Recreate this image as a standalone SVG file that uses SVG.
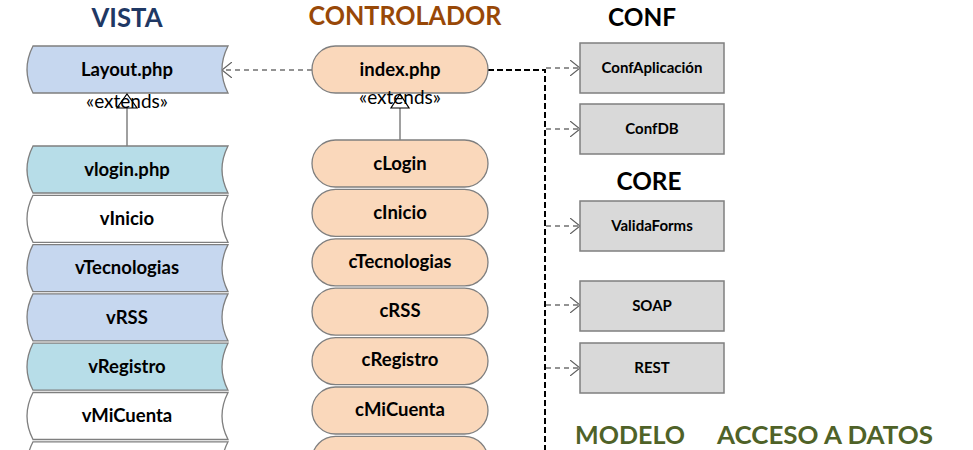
<svg xmlns="http://www.w3.org/2000/svg" width="973" height="450" viewBox="0 0 973 450">
<style>
.hd{font-family:Lato,"Liberation Sans",sans-serif;font-weight:bold;text-anchor:middle}
.lb{font-family:Lato,"Liberation Sans",sans-serif;font-weight:bold;font-size:18.5px;text-anchor:middle;fill:#000}
.bx{font-family:Lato,"Liberation Sans",sans-serif;font-weight:bold;font-size:15px;text-anchor:middle;fill:#000}
.ext{font-family:Lato,"Liberation Sans",sans-serif;font-size:19px;text-anchor:middle;fill:#000}
.v{stroke:#7f7f7f;stroke-width:1.3}
.c{fill:#fad8bb;stroke:#7f7f7f;stroke-width:1.3}
.g{fill:#d9d9d9;stroke:#7f7f7f;stroke-width:1.5}
.blue{fill:#c6d7ef}
.teal{fill:#b7dde8}
.white{fill:#fff}
.dg{fill:none;stroke:#707070;stroke-width:1.3;stroke-dasharray:5 4}
.db{fill:none;stroke:#000;stroke-width:2;stroke-dasharray:6 3}
.gen{fill:none;stroke:#808080;stroke-width:1.5}
</style>
<defs>
<marker id="open" viewBox="0 0 10 16" refX="10" refY="8" markerWidth="10" markerHeight="16" markerUnits="userSpaceOnUse" orient="auto">
<path d="M0,0 L10,8 L0,16" fill="none" stroke="#606060" stroke-width="1.2"/>
</marker>
</defs>

<!-- headers -->
<text class="hd" x="127" y="27" font-size="27" fill="#1f3864" textLength="71" lengthAdjust="spacingAndGlyphs">VISTA</text>
<text class="hd" x="405" y="25" font-size="26" fill="#984807" textLength="193" lengthAdjust="spacingAndGlyphs">CONTROLADOR</text>
<text class="hd" x="642" y="26" font-size="25" fill="#000" textLength="68" lengthAdjust="spacingAndGlyphs">CONF</text>
<text class="hd" x="649" y="190" font-size="25" fill="#000" textLength="65" lengthAdjust="spacingAndGlyphs">CORE</text>
<text class="hd" x="630" y="444" font-size="25" fill="#4f6228" textLength="110" lengthAdjust="spacingAndGlyphs">MODELO</text>
<text class="hd" x="825" y="444" font-size="25" fill="#4f6228" textLength="216" lengthAdjust="spacingAndGlyphs">ACCESO A DATOS</text>

<!-- connectors -->
<g id="connectors">
<line class="dg" x1="312" y1="70" x2="222" y2="70" marker-end="url(#open)"/>
<polyline class="db" points="488,70 545,70 545,450"/>
<line class="dg" x1="546" y1="68" x2="580" y2="68" marker-end="url(#open)"/>
<line class="dg" x1="546" y1="129" x2="580" y2="129" marker-end="url(#open)"/>
<line class="dg" x1="546" y1="226" x2="580" y2="226" marker-end="url(#open)"/>
<line class="dg" x1="546" y1="305" x2="580" y2="305" marker-end="url(#open)"/>
<line class="dg" x1="546" y1="368" x2="580" y2="368" marker-end="url(#open)"/>
<line class="gen" x1="127" y1="108" x2="127" y2="146"/>
<line class="gen" x1="400" y1="108" x2="400" y2="140"/>
</g>

<!-- VISTA -->
<g id="layout">
<path class="v blue" d="M33,46 L228,46 Q216,69.5 228,93 L33,93 Q21,69.5 33,46 Z"/>
<text class="lb" x="127" y="76">Layout.php</text>
</g>
<g id="vlogin">
<path class="v teal" d="M33,146 L228,146 Q216,169.5 228,193 L33,193 Q21,169.5 33,146 Z"/>
<text class="lb" x="127" y="176">vlogin.php</text>
</g>
<g id="vinicio">
<path class="v white" d="M33,195.3 L228,195.3 Q216,218.8 228,242.3 L33,242.3 Q21,218.8 33,195.3 Z"/>
<text class="lb" x="127" y="225">vInicio</text>
</g>
<g id="vtecnologias">
<path class="v blue" d="M33,244.6 L228,244.6 Q216,268.1 228,291.6 L33,291.6 Q21,268.1 33,244.6 Z"/>
<text class="lb" x="127" y="274">vTecnologias</text>
</g>
<g id="vrss">
<path class="v blue" d="M33,293.9 L228,293.9 Q216,317.4 228,340.9 L33,340.9 Q21,317.4 33,293.9 Z"/>
<text class="lb" x="127" y="324">vRSS</text>
</g>
<g id="vregistro">
<path class="v teal" d="M33,343.2 L228,343.2 Q216,366.7 228,390.2 L33,390.2 Q21,366.7 33,343.2 Z"/>
<text class="lb" x="127" y="373">vRegistro</text>
</g>
<g id="vmicuenta">
<path class="v white" d="M33,392.5 L228,392.5 Q216,416 228,439.5 L33,439.5 Q21,416 33,392.5 Z"/>
<text class="lb" x="127" y="422">vMiCuenta</text>
</g>
<g id="vnext">
<path class="v white" d="M33,441.8 L228,441.8 Q216,465.3 228,488.8 L33,488.8 Q21,465.3 33,441.8 Z"/>
</g>

<!-- generalization (vista) -->
<g id="ext-vista">
<text class="ext" x="127" y="108">«extends»</text>
<path d="M127,94 L137,108 L117,108 Z" fill="none" stroke="#000" stroke-width="1.2"/>
</g>

<!-- CONTROLADOR -->
<g id="index">
<rect class="c" x="312" y="46" width="176" height="47" rx="23.5"/>
<text class="lb" x="400" y="76">index.php</text>
</g>
<g id="clogin">
<rect class="c" x="312" y="140" width="176" height="47" rx="23.5"/>
<text class="lb" x="400" y="170">cLogin</text>
</g>
<g id="cinicio">
<rect class="c" x="312" y="189.4" width="176" height="47" rx="23.5"/>
<text class="lb" x="400" y="219">cInicio</text>
</g>
<g id="ctecnologias">
<rect class="c" x="312" y="238.8" width="176" height="47" rx="23.5"/>
<text class="lb" x="400" y="268">cTecnologias</text>
</g>
<g id="crss">
<rect class="c" x="312" y="288.2" width="176" height="47" rx="23.5"/>
<text class="lb" x="400" y="317">cRSS</text>
</g>
<g id="cregistro">
<rect class="c" x="312" y="337.6" width="176" height="47" rx="23.5"/>
<text class="lb" x="400" y="366">cRegistro</text>
</g>
<g id="cmicuenta">
<rect class="c" x="312" y="387" width="176" height="47" rx="23.5"/>
<text class="lb" x="400" y="416">cMiCuenta</text>
</g>
<g id="cnext">
<rect class="c" x="312" y="436.4" width="176" height="47" rx="23.5"/>
</g>
<g id="ext-controlador">
<text class="ext" x="400" y="104">«extends»</text>
<path d="M400,94 L409,108 L391,108 Z" fill="none" stroke="#000" stroke-width="1.2"/>
</g>

<!-- CONF / CORE -->
<g id="confaplicacion">
<rect class="g" x="580" y="43" width="144" height="50"/>
<text class="bx" x="652" y="73">ConfAplicación</text>
</g>
<g id="confdb">
<rect class="g" x="580" y="104" width="144" height="50"/>
<text class="bx" x="652" y="134">ConfDB</text>
</g>
<g id="validaforms">
<rect class="g" x="580" y="201" width="144" height="50"/>
<text class="bx" x="652" y="231">ValidaForms</text>
</g>
<g id="soap">
<rect class="g" x="580" y="281" width="144" height="50"/>
<text class="bx" x="652" y="311">SOAP</text>
</g>
<g id="rest">
<rect class="g" x="580" y="343" width="144" height="50"/>
<text class="bx" x="652" y="373">REST</text>
</g>
</svg>
